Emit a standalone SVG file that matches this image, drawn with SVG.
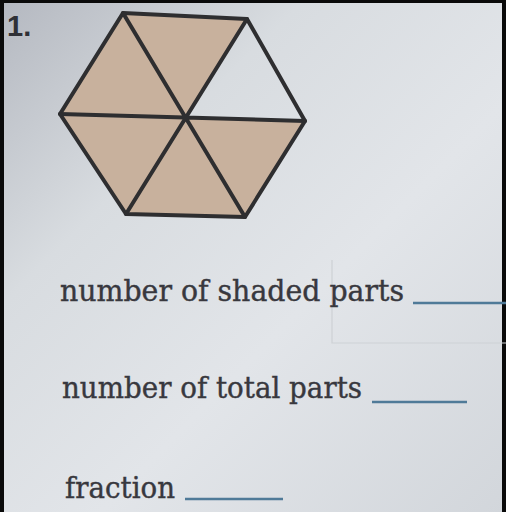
<svg xmlns="http://www.w3.org/2000/svg" width="506" height="512" viewBox="0 0 506 512">
<defs>
<style>
.lbl{font-family:"DejaVu Serif","Liberation Serif",serif;font-size:29px;fill:#38383e;stroke:#38383e;stroke-width:0.4}
.blank{stroke:#4f7a98;stroke-width:2.5}
.tri{fill:#c8b19d;stroke:none}
.edge{stroke:#2e2e30;stroke-width:4;stroke-linecap:round;stroke-linejoin:round;fill:none}
</style>
<linearGradient id="bg" x1="0" y1="0" x2="1" y2="1">
<stop offset="0" stop-color="#b4b8c0"/>
<stop offset="0.3" stop-color="#d8dce0"/>
<stop offset="0.6" stop-color="#e2e5e9"/>
<stop offset="1" stop-color="#d2d6db"/>
</linearGradient>
</defs>
<rect x="0" y="0" width="506" height="512" fill="url(#bg)"/>
<g id="frame" fill="#0a0a0a">
<rect x="0" y="0" width="506" height="3"/>
<rect x="0" y="0" width="4" height="512"/>
<rect x="502" y="0" width="4" height="512"/>
</g>
<g id="ghost" stroke="#cdd1d5" stroke-width="1.2" fill="none">
<path d="M332 260 V343 H506"/>
</g>
<g id="number">
<text x="7" y="36" font-family="Liberation Sans,Arial,sans-serif" font-weight="bold" font-size="29" fill="#2f3036">1.</text>
</g>
<g id="hexagon">
<polygon class="tri" points="185,117 60,114 123,13"/>
<polygon class="tri" points="185,117 123,13 247,19"/>
<polygon class="tri" points="185,117 305,121 245,217"/>
<polygon class="tri" points="185,117 245,217 126,214"/>
<polygon class="tri" points="185,117 126,214 60,114"/>
<polygon class="edge" points="123,13 247,19 305,121 245,217 126,214 60,114"/>
<path class="edge" d="M123,13 L245,217 M247,19 L126,214 M60,114 L305,121"/>
</g>
<g id="q1">
<text class="lbl" x="60" y="301" textLength="344" lengthAdjust="spacingAndGlyphs">number of shaded parts</text>
<line class="blank" x1="413" y1="303" x2="506" y2="303"/>
</g>
<g id="q2">
<text class="lbl" x="62" y="398" textLength="300" lengthAdjust="spacingAndGlyphs">number of total parts</text>
<line class="blank" x1="372" y1="402" x2="467" y2="402"/>
</g>
<g id="q3">
<text class="lbl" x="65" y="498" textLength="110" lengthAdjust="spacingAndGlyphs">fraction</text>
<line class="blank" x1="185" y1="499" x2="283" y2="499"/>
</g>
</svg>
